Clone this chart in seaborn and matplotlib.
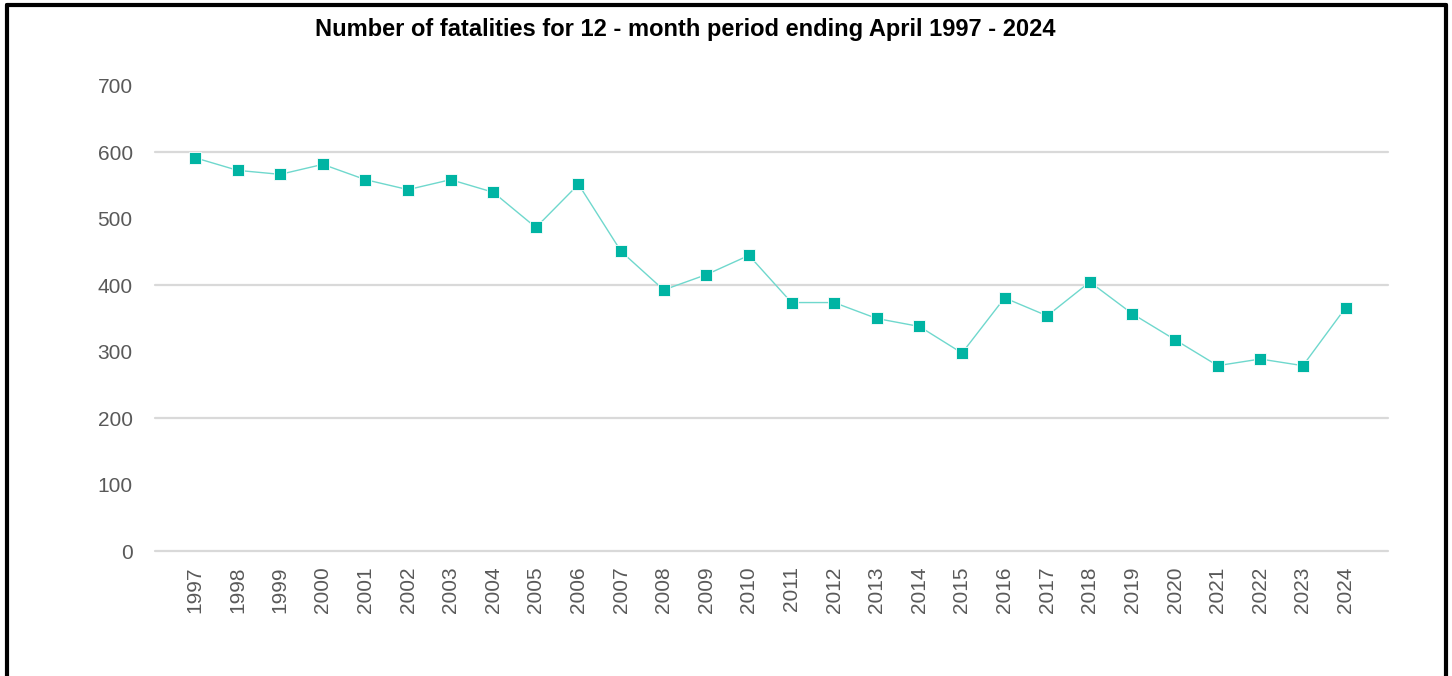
import pandas as pd
import matplotlib.pyplot as plt
import seaborn as sns
from matplotlib.lines import Line2D

# --- data ---
years = list(range(1997, 2025))
fatalities = [592, 573, 567, 582, 559, 544, 559, 540, 487, 552,
              451, 393, 416, 445, 374, 374, 350, 338, 298, 381,
              354, 405, 357, 318, 279, 289, 279, 366]
y_ticks = [0, 100, 200, 300, 400, 500, 600, 700]
grid_levels = [0, 200, 400, 600]
title = "Number of fatalities for 12 - month period ending April 1997 - 2024"

df = pd.DataFrame({"pos": range(len(years)), "year": years, "value": fatalities})

sns.set_style("white")
plt.rcParams['font.family'] = ['Liberation Sans', 'DejaVu Sans']

fig = plt.figure(figsize=(14.52, 6.76), dpi=100)
ax = fig.add_axes([0.1067, 0.1849, 0.8493, 0.6879])

# gridlines only every 200
for g in grid_levels:
    ax.axhline(g, color='#d9d9d9', linewidth=1.6, zorder=0, clip_on=False)

sns.lineplot(data=df, x="pos", y="value", ax=ax, color='#6fd8cd', linewidth=1.0,
             marker='s', markersize=8.5, markerfacecolor='#00b4a3',
             markeredgecolor='white', markeredgewidth=0.6, zorder=3)

ax.set_xlim(-0.94, 28.0)
ax.set_ylim(0, 700)
ax.set_yticks(y_ticks)
ax.set_yticklabels([str(t) for t in y_ticks])
ax.set_xticks(df["pos"])
ax.set_xticklabels([str(y) for y in years], rotation=90)
ax.tick_params(axis='y', length=0, pad=16, labelsize=15, labelcolor='#595959')
ax.tick_params(axis='x', length=0, pad=11, labelsize=15, labelcolor='#595959')
ax.set_xlabel("")
ax.set_ylabel("")
for s in ax.spines.values():
    s.set_visible(False)

fig.text(0.4718, 0.9571, title, ha='center', va='center', fontsize=17,
         fontweight='bold', color='black')

# black frame on left, top and right (bottom cut off in reference)
frame_kw = dict(color='black', linewidth=3, transform=fig.transFigure)
fig.add_artist(Line2D([7 / 1452, 7 / 1452], [0, 1 - 5 / 676], **frame_kw))
fig.add_artist(Line2D([1446 / 1452, 1446 / 1452], [0, 1 - 5 / 676], **frame_kw))
fig.add_artist(Line2D([7 / 1452, 1446 / 1452], [1 - 5 / 676, 1 - 5 / 676], **frame_kw))

fig.savefig("out.png", dpi=100, facecolor='white')
